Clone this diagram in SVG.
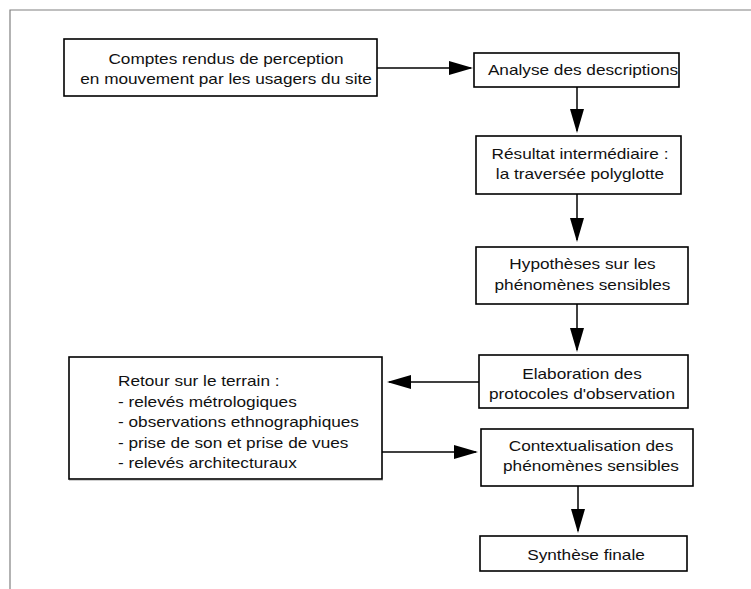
<svg xmlns="http://www.w3.org/2000/svg" width="751" height="589" viewBox="0 0 751 589">
<defs>
<style>
.frame{fill:none;stroke:#808080;stroke-width:1.2}
.box{fill:#fff;stroke:#000;stroke-width:1.6}
.t{font-family:"Liberation Sans",Arial,sans-serif;font-size:17.2px;fill:#111}
.c{text-anchor:middle}
.conn line{stroke:#000;stroke-width:1.5}
</style>
<marker id="ah" markerUnits="userSpaceOnUse" markerWidth="26" markerHeight="16" refX="22" refY="7" orient="auto">
<path d="M0,0 L24,7 L0,14 z" fill="#000"/>
</marker>
</defs>
<rect width="751" height="589" fill="#fff"/>
<path class="frame" d="M10,589 V10 H751"/>

<g id="n1">
<rect class="box" x="64" y="39" width="313" height="57"/>
<text class="t c" transform="matrix(1 0 0 0.855 226 64)">Comptes rendus de perception</text>
<text class="t c" transform="matrix(1 0 0 0.855 226 84)">en mouvement par les usagers du site</text>
</g>
<g id="n2">
<rect class="box" x="474" y="53" width="205" height="34"/>
<text class="t c" transform="matrix(1 0 0 0.855 583 75)">Analyse des descriptions</text>
</g>
<g id="n3">
<rect class="box" x="476" y="136" width="205" height="58"/>
<text class="t c" transform="matrix(1 0 0 0.855 580 159)">Résultat intermédiaire :</text>
<text class="t c" transform="matrix(1 0 0 0.855 580 179)">la traversée polyglotte</text>
</g>
<g id="n4">
<rect class="box" x="476" y="247" width="212" height="57"/>
<text class="t c" transform="matrix(1 0 0 0.855 582.5 268.5)">Hypothèses sur les</text>
<text class="t c" transform="matrix(1 0 0 0.855 582.5 289.5)">phénomènes sensibles</text>
</g>
<g id="n5">
<rect class="box" x="479" y="355" width="209" height="53"/>
<text class="t c" transform="matrix(1 0 0 0.855 582 379)">Elaboration des</text>
<text class="t c" transform="matrix(1 0 0 0.855 582 399)">protocoles d'observation</text>
</g>
<g id="n6">
<rect class="box" x="481" y="429" width="212" height="57"/>
<text class="t c" transform="matrix(1 0 0 0.855 591 451)">Contextualisation des</text>
<text class="t c" transform="matrix(1 0 0 0.855 591 471)">phénomènes sensibles</text>
</g>
<g id="n7">
<rect class="box" x="480" y="536" width="207" height="35"/>
<text class="t c" transform="matrix(1 0 0 0.855 586 560)">Synthèse finale</text>
</g>
<g id="n8">
<line x1="69" y1="480.5" x2="383" y2="480.5" stroke="#cfcfcf" stroke-width="1"/>
<rect class="box" x="69" y="357" width="313" height="122"/>
<text class="t" transform="matrix(1 0 0 0.855 118 386)">Retour sur le terrain :</text>
<text class="t" transform="matrix(1 0 0 0.855 118 406.5)">- relevés métrologiques</text>
<text class="t" transform="matrix(1 0 0 0.855 118 427)">- observations ethnographiques</text>
<text class="t" transform="matrix(1 0 0 0.855 118 447.5)">- prise de son et prise de vues</text>
<text class="t" transform="matrix(1 0 0 0.855 118 468)">- relevés architecturaux</text>
</g>

<g id="connectors" class="conn">
<line x1="377" y1="68" x2="471" y2="68" marker-end="url(#ah)"/>
<line x1="577" y1="87" x2="577" y2="131" marker-end="url(#ah)"/>
<line x1="577" y1="194" x2="577" y2="240" marker-end="url(#ah)"/>
<line x1="577" y1="304" x2="577" y2="350" marker-end="url(#ah)"/>
<line x1="479" y1="382" x2="389" y2="382" marker-end="url(#ah)"/>
<line x1="382" y1="452" x2="476" y2="452" marker-end="url(#ah)"/>
<line x1="578" y1="486" x2="578" y2="531" marker-end="url(#ah)"/>
</g>
</svg>
